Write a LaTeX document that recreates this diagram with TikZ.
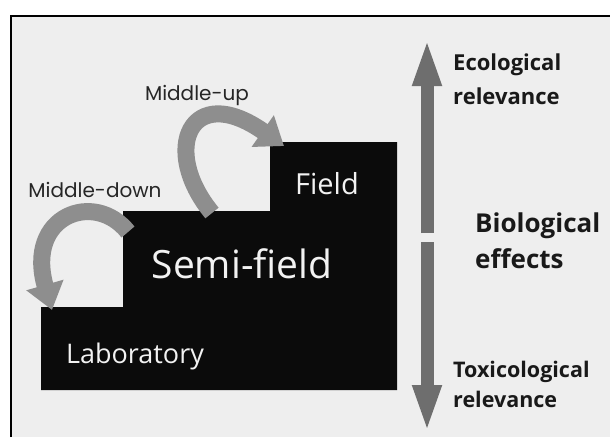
\documentclass[tikz,border=0pt]{standalone}
\usepackage{fontspec}
\setmainfont{Open Sans}
\newfontfamily\gothic{Poppins}
\usetikzlibrary{arrows.meta}
\definecolor{paperbg}{HTML}{EEEEEE}
\definecolor{stepfill}{HTML}{0B0B0B}
\definecolor{bendgray}{HTML}{8E8E8E}
\definecolor{axisgray}{HTML}{6E6E6E}
\definecolor{steptext}{HTML}{F2F2F2}

\begin{document}
\begin{tikzpicture}[
  x=1pt, y=-1pt,
  steplabel/.style={text=steptext, inner sep=0pt, anchor=base},
  bendlabel/.style={font=\gothic\fontsize{20}{24}\selectfont, text=black!85, inner sep=0pt, anchor=base},
  sidelabel/.style={font=\bfseries\fontsize{22}{34}\selectfont, text=black!90, align=left, inner sep=0pt, anchor=base west},
  bendarrow/.style={draw=bendgray, line width=17pt, -{Triangle[width=37pt,length=26pt]}},
  axisarrow/.style={draw=axisgray, line width=13pt, -{Triangle[width=26pt,length=48pt]}}
]
  % canvas and frame
  \useasboundingbox (0,0) rectangle (610,437);
  \fill[white] (0,0) rectangle (610,437);
  \fill[paperbg] (11,16) rectangle (610,437);
  \draw[line width=2.4pt] (11.2,437) -- (11.2,16.2) -- (610,16.2);

  % staircase of test levels
  \fill[stepfill] (41,390) -- (41,307) -- (123,307) -- (123,211) -- (270,211)
    -- (270,142) -- (397,142) -- (397,390) -- cycle;

  \node[steplabel, font=\fontsize{27}{32}\selectfont] (lab) at (135,363) {Laboratory};
  \node[steplabel, font=\fontsize{39}{46}\selectfont] (semi) at (242,278) {Semi-field};
  \node[steplabel, font=\fontsize{29}{34}\selectfont] (field) at (327,194) {Field};

  % bent arrows between the levels
  \coordinate (uptail) at (212,213);
  \coordinate (uphead) at (284,146);
  \coordinate (downtail) at (128,232);
  \coordinate (downhead) at (52,310);
  \draw[bendarrow] (uptail) .. controls (160,150) and (190,80) .. (uphead);
  \draw[bendarrow] (downtail) .. controls (95,190) and (25,215) .. (downhead);

  \node[bendlabel] (uplabel) at (197,100) {Middle-up};
  \node[bendlabel] (downlabel) at (95,197) {Middle-down};

  % relevance axis
  \coordinate (axistop) at (427,38);
  \coordinate (axisgaphi) at (427,233);
  \coordinate (axisgaplo) at (427,242);
  \coordinate (axisbot) at (427,433);
  \draw[axisarrow] (axisgaphi) -- (axistop);
  \draw[axisarrow] (axisgaplo) -- (axisbot);

  \node[sidelabel] (eco) at (453,104) {Ecological\\relevance};
  \node[sidelabel, font=\bfseries\fontsize{26}{36}\selectfont] (bio) at (475,268) {Biological\\effects};
  \node[sidelabel, font=\bfseries\fontsize{21.5}{30}\selectfont] (tox) at (453,407) {Toxicological\\relevance};
\end{tikzpicture}
\end{document}
